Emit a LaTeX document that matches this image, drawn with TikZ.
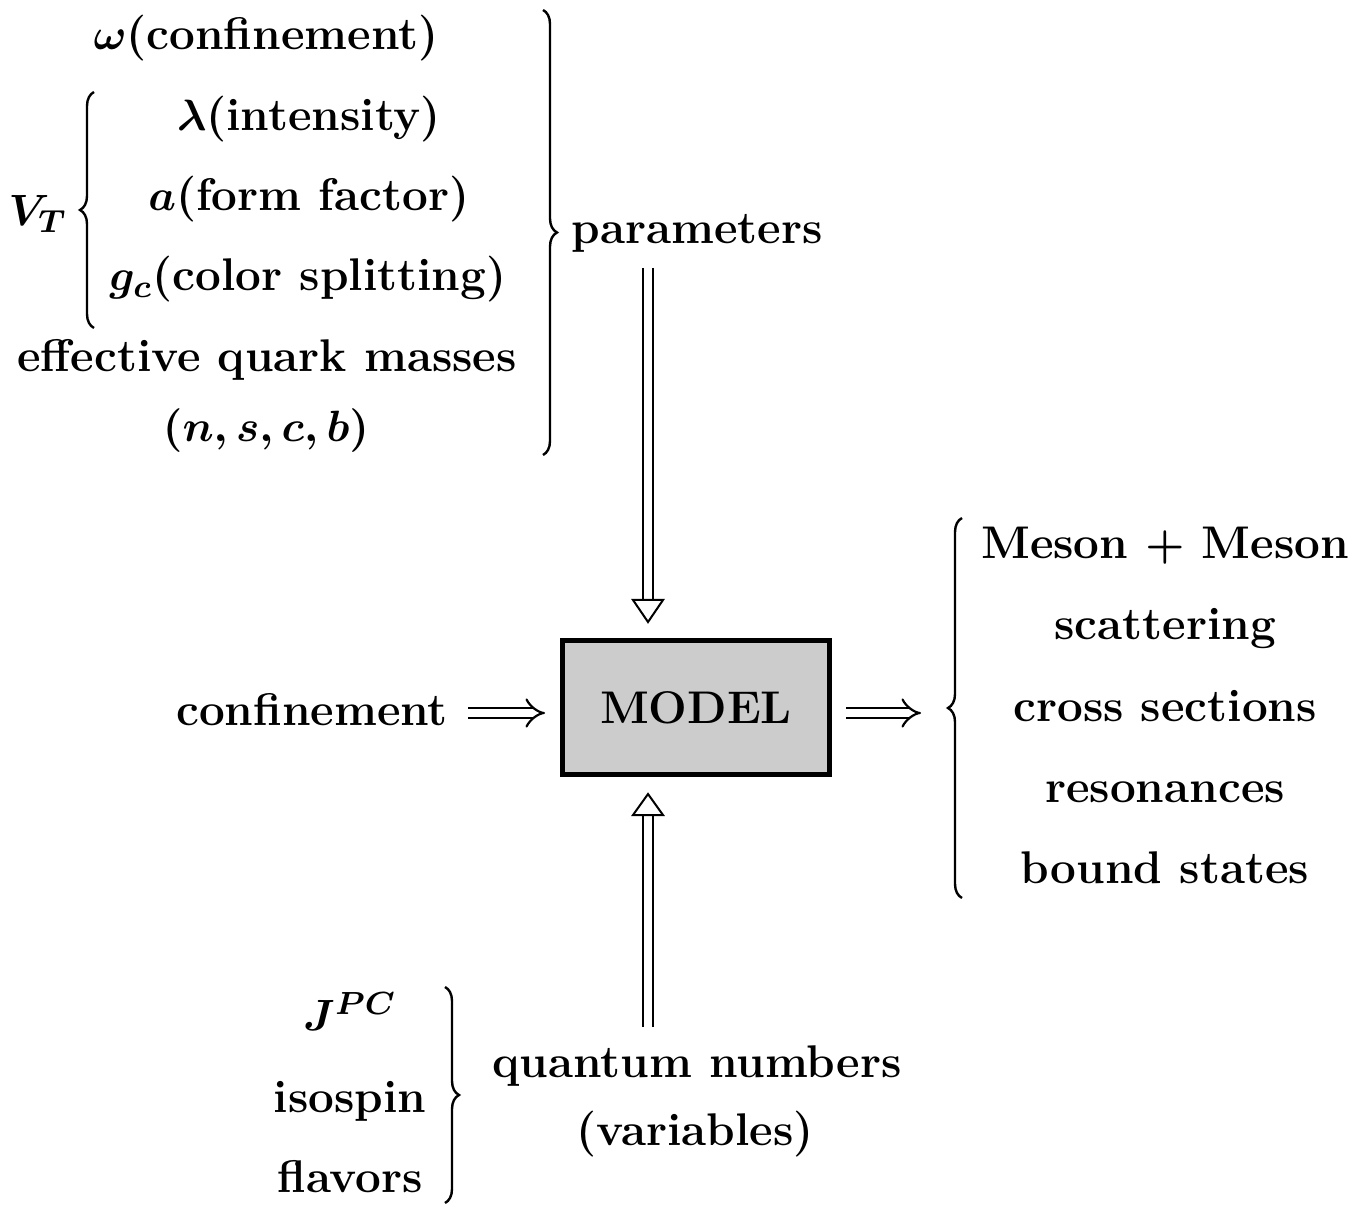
\documentclass[tikz,border=0pt]{standalone}
\usepackage{fontspec}
\usetikzlibrary{arrows.meta,decorations.pathreplacing,calc}
\begin{document}
\begin{tikzpicture}[x=0.25pt,y=-0.25pt,
  lbl/.style={font=\fontsize{11.45}{13.7}\selectfont\bfseries\boldmath, inner sep=0pt, anchor=base},
  brc/.style={decorate, decoration={brace, amplitude=3.5pt}, line width=0.6pt},
  imp/.style={double, double distance=2pt, line width=0.55pt, -{Implies[scale=1.25]}},
  shaft/.style={line width=0.5pt},
  headtri/.style={line width=0.5pt, line join=miter},
  modelbox/.style={draw, line width=1.25pt, fill=black!20, minimum width=66.75pt, minimum height=33.5pt, inner sep=0pt, font=\fontsize{11.45}{13.7}\selectfont\bfseries}
]
\useasboundingbox (0,0) rectangle (1355,1206);

% parameters block
\node[lbl] (omega) at (266,50) {$\omega$(confinement)};
\node[lbl] (lambda) at (309,131) {$\lambda$(intensity)};
\node[lbl] (aff) at (309,211) {$a$(form factor)};
\node[lbl] (gc) at (308,291) {$g_c$(color splitting)};
\node[lbl] (eqm) at (267,372) {effective quark masses};
\node[lbl] (nscb) at (266,442) {$(n,s,c,b)$};
\node[lbl] (vt) at (38,226) {$V_T$};
\node[lbl] (params) at (697,244) {parameters};

\draw[brc] (94,328) -- (94,92);
\draw[brc] (543,10) -- (543,455);

% model
\node[modelbox] (model) at (696,707.5) {MODEL};
\node[lbl] (conf) at (312,725) {confinement};

% outputs
\node[lbl] (o1) at (1165,559) {Meson $+$ Meson};
\node[lbl] (o2) at (1165,640) {scattering};
\node[lbl] (o3) at (1165,721) {cross sections};
\node[lbl] (o4) at (1165,802) {resonances};
\node[lbl] (o5) at (1165,883) {bound states};
\draw[brc] (962,898) -- (962,518);

% quantum numbers
\node[lbl] (jpc) at (350,1030) {$J^{PC}$};
\node[lbl] (iso) at (350,1112) {isospin};
\node[lbl] (flav) at (350,1192) {flavors};
\node[lbl] (qn) at (697,1077) {quantum numbers};
\node[lbl] (var) at (695,1145) {(variables)};
\draw[brc] (445,987) -- (445,1203);

% implies arrows
\coordinate (la) at (468,713);
\coordinate (lb) at (545,713);
\coordinate (ra) at (846,713);
\coordinate (rb) at (921,713);
\draw[imp] (la) -- (lb);
\draw[imp] (ra) -- (rb);

% down arrow (parameters -> model)
\coordinate (dtop) at (648,268);
\coordinate (dtip) at (648,622);
\draw[shaft] ($(dtop)+(-5,0)$) -- ($(dtip)+(-5,-22)$);
\draw[shaft] ($(dtop)+(5,0)$) -- ($(dtip)+(5,-22)$);
\draw[headtri] ($(dtip)+(-15,-22)$) -- ($(dtip)+(15,-22)$) -- (dtip) -- cycle;

% up arrow (quantum numbers -> model)
\coordinate (ubot) at (648,1027);
\coordinate (utip) at (648,794);
\draw[shaft] ($(ubot)+(-5,0)$) -- ($(utip)+(-5,21)$);
\draw[shaft] ($(ubot)+(5,0)$) -- ($(utip)+(5,21)$);
\draw[headtri] ($(utip)+(-15,21)$) -- ($(utip)+(15,21)$) -- (utip) -- cycle;
\end{tikzpicture}
\end{document}
